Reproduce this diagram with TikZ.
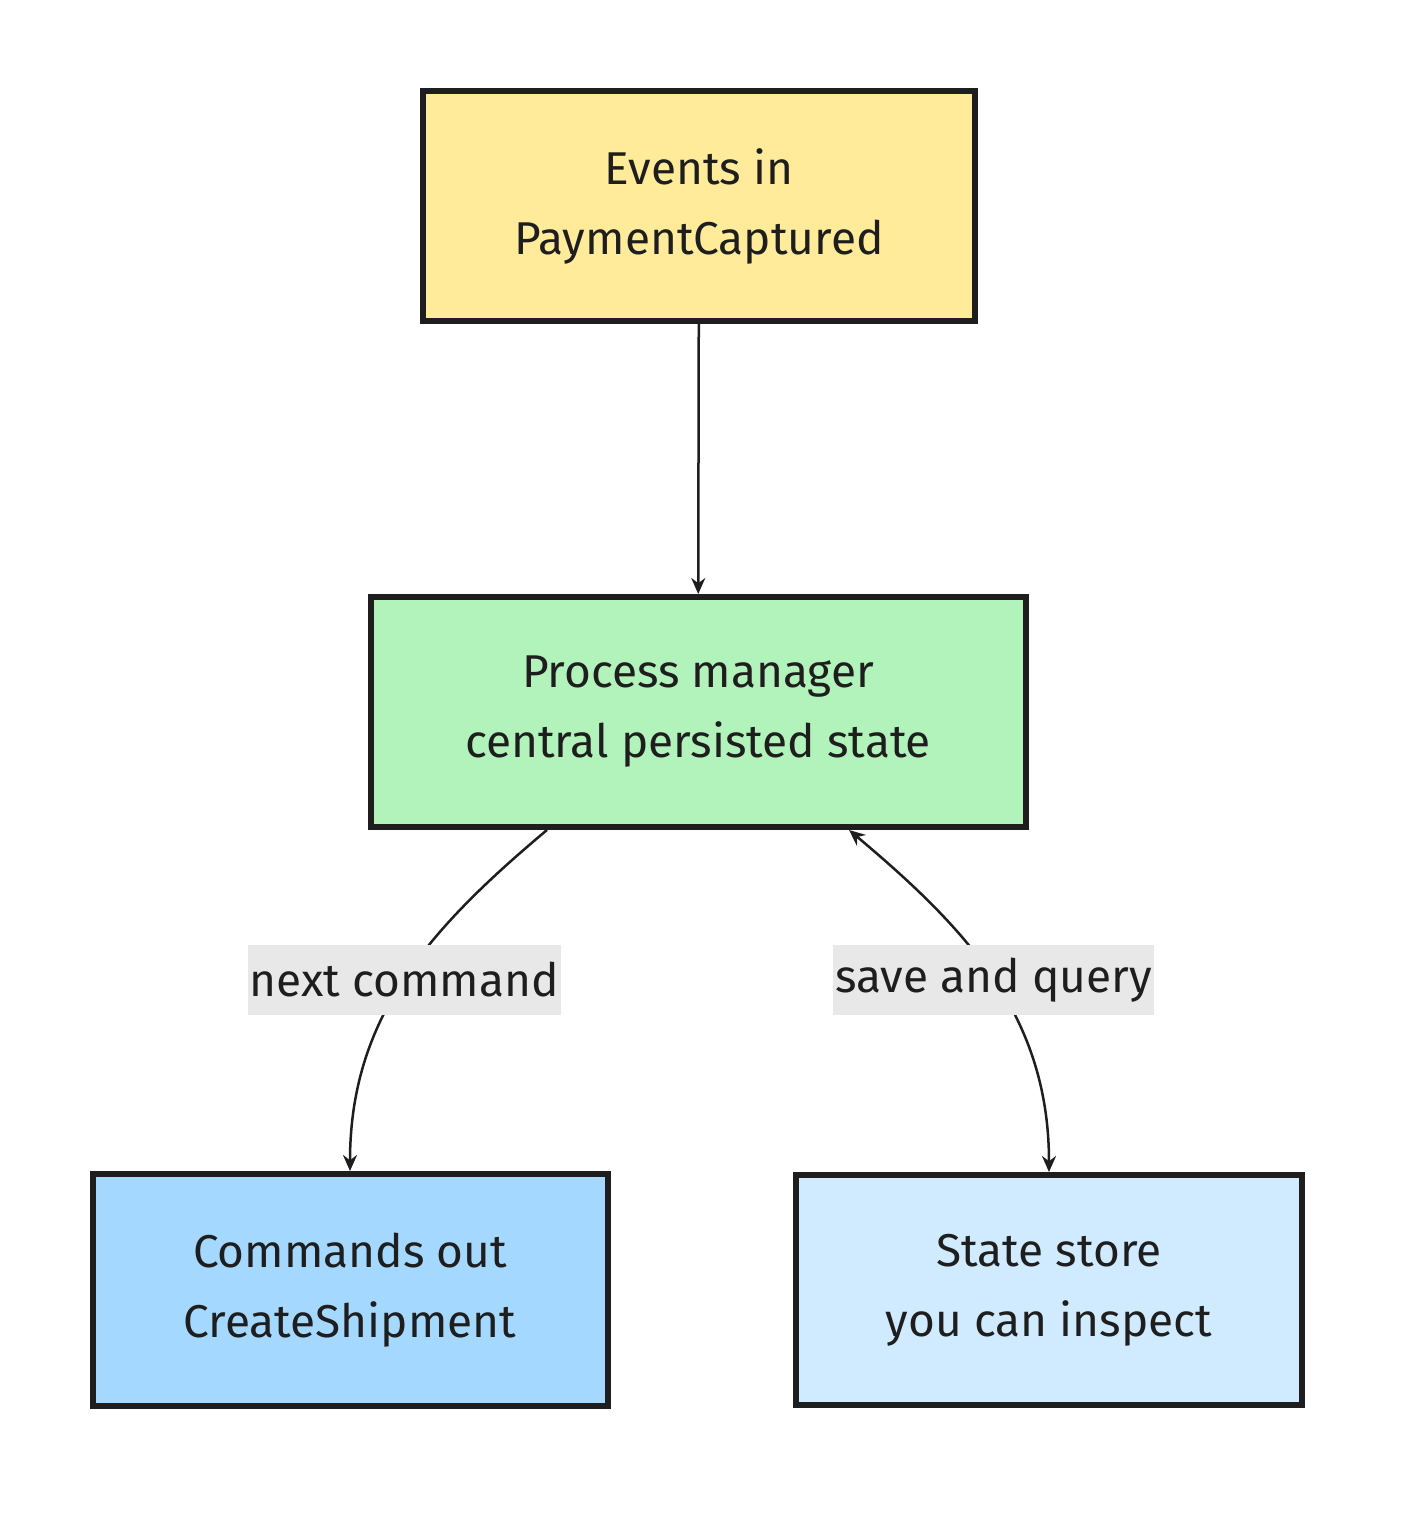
\documentclass[tikz,border=0pt]{standalone}
\usepackage{fontspec}
\setmainfont{Fira Sans}
\usetikzlibrary{arrows.meta}
\definecolor{inkc}{HTML}{1E1E1E}
\definecolor{yellowc}{HTML}{FFEB99}
\definecolor{greenc}{HTML}{B2F2BB}
\definecolor{bluec}{HTML}{A5D8FF}
\definecolor{lightc}{HTML}{D0EBFF}
\definecolor{labelc}{HTML}{E8E8E8}
\begin{document}
\begin{tikzpicture}%
  [x=1pt, y=-1pt,
   >={Stealth[length=16pt,width=14pt]},
   box/.style={draw=inkc, line width=6pt, align=center, text=inkc,
     font=\fontsize{46}{70}\selectfont, inner sep=0pt},
   lbl/.style={fill=labelc, text=inkc, font=\fontsize{46}{56}\selectfont,
     inner sep=2pt, minimum height=70pt},
  ]
\useasboundingbox (0,0) rectangle (1419,1527);
\node[box, fill=yellowc, minimum width=552pt, minimum height=230pt] (ev) at (699,206) {Events in\\PaymentCaptured};
\node[box, fill=greenc, minimum width=655pt, minimum height=230pt] (pm) at (698,712) {Process manager\\central persisted state};
\node[box, fill=bluec, minimum width=515pt, minimum height=232pt] (cmd) at (350,1290) {Commands out\\CreateShipment};
\node[box, fill=lightc, minimum width=506pt, minimum height=230pt] (st) at (1049,1290) {State store\\you can inspect};

\draw[->, inkc, line width=2.5pt] (ev) -- (pm);
\draw[->, inkc, line width=2.5pt] (pm.218) to[out=-140,in=90]
   node[lbl, pos=0.5] {next command} (cmd.north);
\draw[<->, inkc, line width=2.5pt] (pm.322) to[out=-40,in=90]
   node[lbl, pos=0.5] {save and query} (st.north);
\end{tikzpicture}
\end{document}
